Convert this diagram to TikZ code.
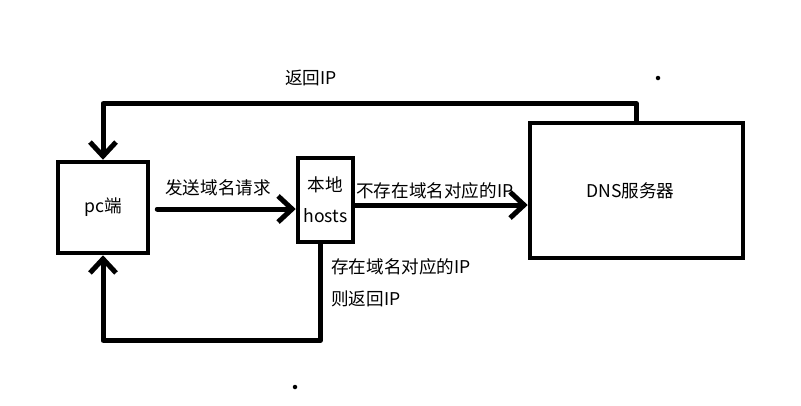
\documentclass[tikz,border=0pt]{standalone}
\usepackage{fontspec}
\setmainfont{Noto Sans CJK SC}
\usetikzlibrary{arrows.meta}

\begin{document}
\begin{tikzpicture}[
  x=1pt, y=-1pt,
  font=\fontsize{17.6}{20}\selectfont,
  box/.style={draw=black, line width=4.5pt, inner sep=0pt, align=center},
  arr/.style={-{Straight Barb[length=14pt, width=26pt]}, line width=5pt, line cap=round, line join=round},
  lbl/.style={inner sep=0pt, anchor=west},
  spot/.style={circle, fill=black, inner sep=0pt, minimum size=4.5pt}
]
\useasboundingbox[fill=white] (0,0) rectangle (801,405);
\node[box, minimum width=90pt, minimum height=91pt] (pc) at (103,207.5) {pc端};
\node[box, minimum width=55pt, minimum height=84pt, font=\fontsize{17.6}{31}\selectfont] (hosts) at (325.5,200) {本地\\hosts};
\node[box, minimum width=213pt, minimum height=135pt] (dns) at (636.5,190.5) {\hspace{-12pt}DNS服务器};
% connectors
\draw[arr] ([xshift=7pt]pc.east |- 0,209) -- (hosts.west |- 0,209);
\draw[arr] (hosts.east |- 0,205) -- (dns.west |- 0,205);
\draw[arr] (dns.north) -- ++(0,-17) -| (pc.north);
\draw[arr] ([xshift=-5pt]hosts.south) -- ++(0,96) -| (pc.south);
% labels
\node[lbl] (send) at (165,188) {发送域名请求};
\node[lbl] (miss) at (356,191) {不存在域名对应的IP};
\node[lbl] (back) at (285,78) {返回IP};
\node[lbl] (hit) at (331,267) {存在域名对应的IP};
\node[lbl] (hitback) at (331,299) {则返回IP};
% stray dots
\node[spot] (dotA) at (658,78) {};
\node[spot] (dotB) at (295,387) {};
\end{tikzpicture}
\end{document}
